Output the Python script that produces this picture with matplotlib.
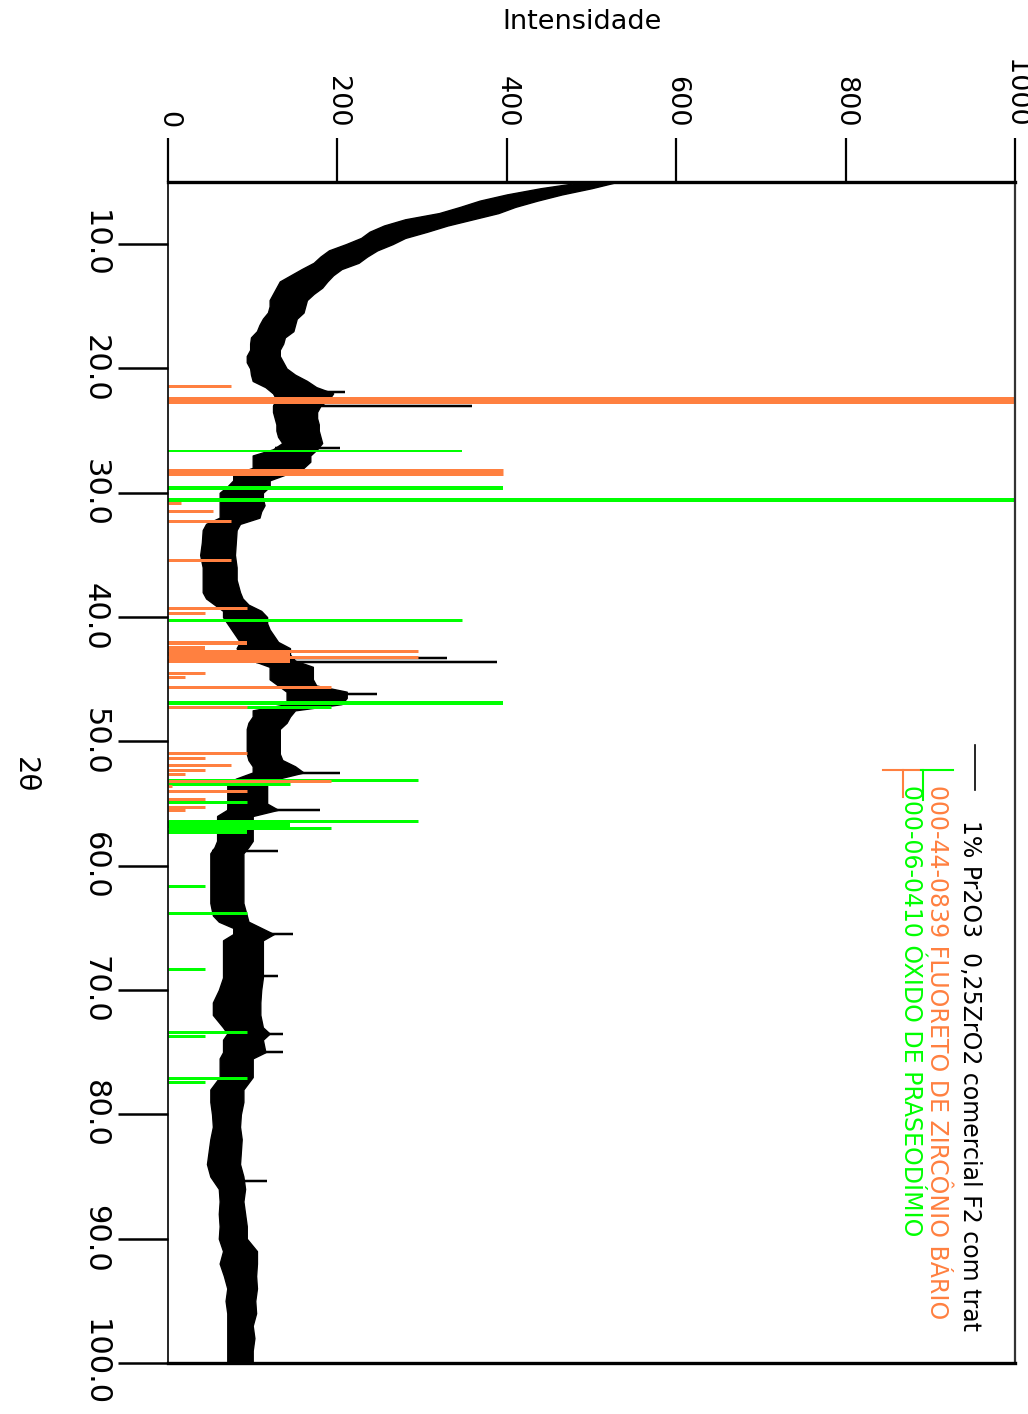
import numpy as np
import matplotlib
matplotlib.use("Agg")
import matplotlib.pyplot as plt
from matplotlib.lines import Line2D

# measured pattern, read as a band (2theta, low edge, high edge)
trace_t = [5.0, 5.5, 6.0, 6.5, 7.0, 7.5, 8.0, 8.5, 9.0, 9.5,
           10.0, 10.5, 11.0, 11.5, 12.0, 12.5, 13.0, 13.5, 14.0, 14.5,
           15.0, 15.5, 16.0, 16.5, 17.0, 17.5, 18.0, 18.5, 19.0, 19.5,
           20.0, 20.5, 21.0, 21.5, 22.0, 22.5, 23.0, 23.5, 24.0, 24.5,
           25.0, 25.5, 26.0, 26.5, 27.0, 27.5, 28.0, 28.5, 29.0, 29.5,
           30.0, 30.5, 31.0, 31.5, 32.0, 32.5, 33.0, 34.0, 35.0, 36.0,
           37.0, 38.0, 38.5, 39.0, 39.5, 40.0, 40.5, 41.0, 41.5, 42.0,
           42.5, 43.0, 43.5, 44.0, 44.5, 45.0, 45.5, 46.0, 46.5, 47.0,
           47.5, 48.0, 48.5, 49.0, 50.0, 51.0, 51.5, 52.0, 52.5, 53.0,
           53.5, 54.0, 55.0, 55.5, 56.0, 57.0, 58.0, 58.5, 59.0, 60.0,
           61.0, 62.0, 63.0, 64.0, 64.5, 65.0, 65.5, 66.0, 67.0, 68.0,
           69.0, 70.0, 71.0, 72.0, 73.0, 73.5, 74.0, 75.0, 75.5, 76.0,
           77.0, 78.0, 79.0, 80.0, 81.0, 82.0, 83.0, 84.0, 85.0, 86.0,
           87.0, 88.0, 89.0, 90.0, 91.0, 92.0, 93.0, 94.0, 95.0, 96.0,
           97.0, 98.0, 99.0, 100.0]
trace_lo = [490, 440, 400, 368, 345, 320, 280, 255, 238, 228,
            210, 190, 180, 172, 158, 145, 132, 128, 124, 120,
            120, 118, 112, 108, 105, 98, 97, 97, 93, 93,
            97, 98, 100, 115, 124, 128, 124, 124, 126, 128,
            128, 130, 135, 124, 100, 100, 100, 77, 77, 70,
            61, 61, 61, 61, 61, 45, 41, 40, 38, 41,
            41, 41, 45, 55, 65, 65, 70, 75, 80, 85,
            81, 85, 100, 120, 120, 120, 130, 140, 140, 140,
            100, 100, 95, 93, 93, 93, 95, 100, 100, 80,
            70, 70, 70, 70, 58, 58, 58, 55, 50, 50,
            50, 50, 50, 53, 60, 77, 77, 65, 65, 65,
            65, 60, 53, 53, 65, 70, 65, 65, 61, 61,
            61, 50, 50, 52, 53, 50, 48, 46, 50, 60,
            61, 60, 61, 60, 65, 61, 66, 70, 68, 70,
            70, 70, 70, 70]
trace_hi = [530, 500, 465, 436, 410, 390, 360, 330, 306, 280,
            265, 247, 235, 225, 205, 195, 188, 182, 172, 164,
            162, 160, 152, 150, 148, 138, 136, 132, 132, 136,
            140, 150, 164, 175, 195, 190, 180, 176, 176, 178,
            178, 180, 182, 176, 168, 168, 160, 140, 120, 120,
            112, 112, 114, 110, 108, 85, 81, 80, 79, 81,
            81, 85, 88, 95, 110, 117, 117, 120, 125, 130,
            144, 144, 150, 171, 171, 171, 175, 211, 211, 205,
            150, 144, 140, 132, 132, 132, 135, 150, 160, 130,
            117, 117, 117, 130, 100, 100, 100, 95, 89, 89,
            89, 89, 89, 93, 95, 110, 125, 112, 112, 112,
            112, 110, 109, 109, 112, 120, 112, 115, 100, 100,
            100, 89, 89, 86, 85, 87, 86, 85, 89, 91,
            89, 91, 93, 93, 105, 105, 104, 105, 103, 104,
            100, 102, 100, 100]

# single-point spikes of the measured pattern
spike_t = [21.9, 22.7, 23.0, 26.4, 43.3, 43.6, 46.2, 52.5, 55.5, 58.8,
           65.5, 68.9, 73.5, 75.0, 85.4]
spike_i = [209, 557, 359, 203, 329, 388, 247, 203, 180, 130,
           148, 130, 136, 136, 117]

# 000-44-0839 fluoreto de zirconio bario
bzf_t = [21.4, 22.5, 28.3, 30.8, 31.5, 32.3, 35.4, 39.3, 39.7, 42.1,
         42.45, 42.7, 42.95, 43.2, 43.5, 44.5, 44.8, 45.6, 47.2, 50.9,
         51.3, 51.9, 52.3, 52.6, 53.2, 53.6, 54.0, 54.6, 55.3, 55.5]
bzf_i = [74, 1000, 396, 15, 53, 74, 74, 93, 44, 93,
         44, 295, 144, 295, 144, 44, 20, 192, 93, 93,
         44, 74, 44, 20, 193, 5, 93, 44, 44, 20]
bzf_px = [3, 7, 7, 3, 3, 3, 3, 3, 3, 4,
          4, 3, 4, 3, 4, 3, 3, 3, 3, 3,
          3, 3, 3, 3, 3, 3, 3, 3, 3, 3]

# 000-06-0410 oxido de praseodimio
pro_t = [26.6, 29.6, 30.6, 40.2, 46.9, 47.2, 53.1, 53.4, 54.9, 56.4,
         56.6, 56.8, 57.0, 57.3, 61.6, 63.8, 68.3, 73.4, 73.7, 77.1, 77.4]
pro_i = [347, 396, 1000, 347, 396, 193, 295, 144, 93, 295,
         144, 144, 193, 93, 44, 93, 44, 93, 44, 93, 44]
pro_px = [2, 4, 4, 3, 4, 3, 3, 3, 3, 3,
          4, 4, 3, 4, 3, 3, 3, 3, 3, 3, 3]

int_ticks = [0, 200, 400, 600, 800, 1000]
tt_ticks = [10, 20, 30, 40, 50, 60, 70, 80, 90, 100]

ORANGE = '#ff8040'
GREEN = '#00ff00'
PX = 0.72

W, H = 1028, 1414
fig = plt.figure(figsize=(W / 100, H / 100), dpi=100)
ax = fig.add_axes([168 / W, 51 / H, 847 / W, 1181 / H])

ax.fill_betweenx(trace_t, trace_lo, trace_hi, color='black', lw=1.0)
base = np.interp(spike_t, trace_t, trace_lo)
ax.hlines(spike_t, base, spike_i, color='black', lw=2.5 * PX)

ax.hlines(pro_t, 0, pro_i, color=GREEN, lw=[w * PX for w in pro_px])
ax.hlines(bzf_t, 0, bzf_i, color=ORANGE, lw=[w * PX for w in bzf_px])

ax.set_xlim(0, 1000)
ax.set_ylim(100, 5)

ax.xaxis.tick_top()
ax.set_xticks(int_ticks)
ax.set_xticklabels([str(v) for v in int_ticks])
ax.set_yticks(tt_ticks)
ax.set_yticklabels(['%.1f' % v for v in tt_ticks])
ax.tick_params(axis='x', length=32, width=1.6, pad=7, labelsize=19.5,
               labelrotation=270)
ax.tick_params(axis='y', length=36, width=1.8, pad=6, labelsize=22,
               labelrotation=270)
for lab in ax.get_yticklabels():
    lab.set_va('center')

ax.spines['top'].set_linewidth(2.4)
ax.spines['bottom'].set_linewidth(2.4)
ax.spines['left'].set_linewidth(1.2)
ax.spines['right'].set_linewidth(1.6)
ax.spines['right'].set_color('#333333')

fig.text(582 / W, 1 - 22 / H, 'Intensidade', ha='center', va='center',
         fontsize=19.5)
fig.text(25 / W, 1 - 775 / H, '2θ', ha='center', va='center',
         fontsize=21, rotation=270)

# legend (rotated with the chart)
def fy(y):
    return 1 - (y - 182) / 1181


def fx(x):
    return (x - 168) / 847


ax.add_line(Line2D([fx(975), fx(975)], [fy(745), fy(790)], color='black',
                   lw=1.2, transform=ax.transAxes))
ax.add_line(Line2D([fx(883), fx(921)], [fy(770), fy(770)], color=ORANGE,
                   lw=1.5, transform=ax.transAxes))
ax.add_line(Line2D([fx(921), fx(953)], [fy(770), fy(770)], color=GREEN,
                   lw=1.5, transform=ax.transAxes))
ax.add_line(Line2D([fx(923), fx(923)], [fy(770), fy(800)], color=GREEN,
                   lw=1.5, transform=ax.transAxes))
ax.add_line(Line2D([fx(903), fx(903)], [fy(770), fy(797)], color=ORANGE,
                   lw=1.5, transform=ax.transAxes))
ax.text(fx(970), fy(820), '1% Pr2O3  0,25ZrO2 comercial F2 com trat',
        rotation=270, ha='center', va='top', fontsize=17, color='black',
        transform=ax.transAxes)
ax.text(fx(937), fy(785), '000-44-0839 FLUORETO DE ZIRCÔNIO BÁRIO',
        rotation=270, ha='center', va='top', fontsize=17, color=ORANGE,
        transform=ax.transAxes)
ax.text(fx(911), fy(785), '000-06-0410 ÓXIDO DE PRASEODÍMIO',
        rotation=270, ha='center', va='top', fontsize=17, color=GREEN,
        transform=ax.transAxes)

fig.savefig('out.png', dpi=100)
